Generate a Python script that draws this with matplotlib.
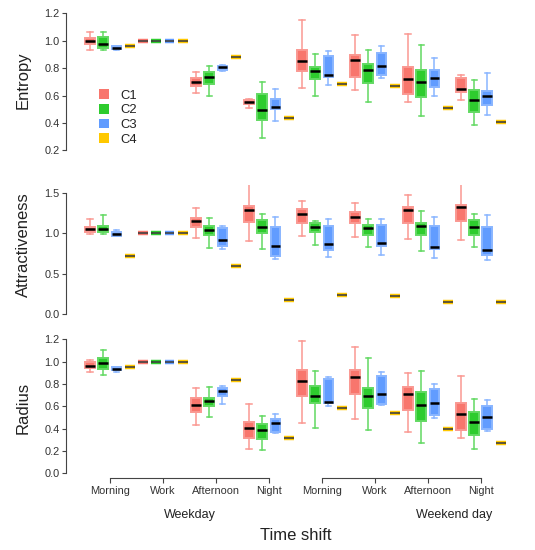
import numpy as np
import matplotlib
matplotlib.use("Agg")
import matplotlib.pyplot as plt
from matplotlib.patches import Patch
from matplotlib.transforms import blended_transform_factory
from matplotlib.colors import to_rgb

plt.rcParams['font.family'] = ['Liberation Sans', 'DejaVu Sans']

# ---------- data (order: day -> shift -> cluster C1..C4) ----------
clusters = ["C1", "C2", "C3", "C4"]
shifts = ["Morning", "Work", "Afternoon", "Night"]
days = ["Weekday", "Weekend day"]
colors = ["#F8766D", "#2ECC2E", "#619CFF", "#FFC800"]

entropy_lo = [0.930, 0.930, 0.935, 0.958,  1.0, 1.0, 1.0, 1.0,
              0.618, 0.598, 0.780, 0.883,  0.506, 0.292, 0.414, 0.435,
              0.655, 0.594, 0.674, 0.684,  0.640, 0.555, 0.726, 0.667,
              0.550, 0.453, 0.596, 0.509,  0.565, 0.385, 0.458, 0.409]
entropy_q1 = [0.974, 0.950, 0.937, 0.958,  1.0, 1.0, 1.0, 1.0,
              0.669, 0.682, 0.785, 0.883,  0.538, 0.421, 0.500, 0.435,
              0.777, 0.718, 0.733, 0.684,  0.737, 0.689, 0.747, 0.667,
              0.613, 0.589, 0.660, 0.509,  0.623, 0.477, 0.531, 0.409]
entropy_med = [1.000, 0.975, 0.945, 0.958,  1.0, 1.0, 1.0, 1.0,
               0.700, 0.735, 0.805, 0.883,  0.550, 0.495, 0.514, 0.435,
               0.852, 0.781, 0.752, 0.684,  0.857, 0.784, 0.813, 0.667,
               0.720, 0.701, 0.730, 0.509,  0.650, 0.567, 0.596, 0.409]
entropy_q3 = [1.022, 1.030, 0.958, 0.958,  1.0, 1.0, 1.0, 1.0,
              0.730, 0.774, 0.818, 0.883,  0.567, 0.609, 0.572, 0.435,
              0.932, 0.810, 0.888, 0.684,  0.896, 0.828, 0.908, 0.667,
              0.806, 0.786, 0.788, 0.509,  0.726, 0.640, 0.631, 0.409]
entropy_hi = [1.065, 1.060, 0.962, 0.958,  1.0, 1.0, 1.0, 1.0,
              0.769, 0.818, 0.822, 0.883,  0.575, 0.699, 0.650, 0.435,
              1.151, 0.905, 0.925, 0.684,  1.044, 0.932, 0.959, 0.667,
              1.047, 0.969, 0.876, 0.509,  0.752, 0.713, 0.764, 0.409]

attract_lo = [0.986, 0.986, 0.965, 0.720,  1.0, 1.0, 1.0, 1.0,
              0.944, 0.820, 0.808, 0.590,  0.903, 0.804, 0.676, 0.169,
              0.968, 0.857, 0.701, 0.239,  0.948, 0.829, 0.730, 0.223,
              0.931, 0.783, 0.696, 0.152,  0.911, 0.829, 0.664, 0.145]
attract_q1 = [1.018, 1.014, 0.968, 0.720,  1.0, 1.0, 1.0, 1.0,
              1.072, 0.977, 0.845, 0.590,  1.142, 1.002, 0.717, 0.169,
              1.121, 1.010, 0.791, 0.239,  1.125, 0.981, 0.841, 0.223,
              1.121, 0.981, 0.800, 0.152,  1.150, 0.981, 0.730, 0.145]
attract_med = [1.047, 1.051, 0.986, 0.720,  1.0, 1.0, 1.0, 1.0,
               1.154, 1.039, 0.919, 0.590,  1.282, 1.072, 0.841, 0.169,
               1.241, 1.076, 0.869, 0.239,  1.204, 1.067, 0.878, 0.223,
               1.290, 1.088, 0.825, 0.152,  1.323, 1.080, 0.791, 0.145]
attract_q3 = [1.080, 1.092, 1.014, 0.720,  1.0, 1.0, 1.0, 1.0,
              1.183, 1.084, 1.060, 0.590,  1.335, 1.166, 1.072, 0.169,
              1.295, 1.121, 1.084, 0.239,  1.258, 1.105, 1.096, 0.223,
              1.319, 1.125, 1.088, 0.152,  1.344, 1.162, 1.080, 0.145]
attract_hi = [1.175, 1.220, 1.039, 0.720,  1.0, 1.0, 1.0, 1.0,
              1.315, 1.191, 1.092, 0.590,  1.604, 1.233, 1.204, 0.169,
              1.401, 1.146, 1.179, 0.239,  1.369, 1.179, 1.171, 0.223,
              1.472, 1.278, 1.196, 0.152,  1.611, 1.240, 1.224, 0.145]

radius_lo = [0.910, 0.877, 0.904, 0.955,  1.0, 1.0, 1.0, 1.0,
             0.430, 0.504, 0.621, 0.833,  0.220, 0.206, 0.358, 0.316,
             0.450, 0.406, 0.603, 0.585,  0.489, 0.385, 0.612, 0.543,
             0.373, 0.274, 0.495, 0.394,  0.313, 0.215, 0.379, 0.269]
radius_q1 = [0.940, 0.937, 0.925, 0.955,  1.0, 1.0, 1.0, 1.0,
             0.546, 0.603, 0.692, 0.833,  0.313, 0.310, 0.367, 0.316,
             0.690, 0.627, 0.627, 0.585,  0.713, 0.585, 0.621, 0.543,
             0.567, 0.471, 0.519, 0.394,  0.391, 0.346, 0.397, 0.269]
radius_med = [0.964, 0.985, 0.937, 0.955,  1.0, 1.0, 1.0, 1.0,
              0.615, 0.650, 0.734, 0.833,  0.409, 0.388, 0.453, 0.316,
              0.824, 0.692, 0.641, 0.585,  0.860, 0.695, 0.713, 0.543,
              0.707, 0.609, 0.630, 0.394,  0.531, 0.457, 0.504, 0.269]
radius_q3 = [0.994, 1.035, 0.952, 0.955,  1.0, 1.0, 1.0, 1.0,
             0.672, 0.674, 0.761, 0.833,  0.459, 0.439, 0.489, 0.316,
             0.925, 0.782, 0.842, 0.585,  0.925, 0.764, 0.871, 0.543,
             0.770, 0.725, 0.758, 0.394,  0.630, 0.546, 0.603, 0.269]
radius_hi = [1.015, 1.107, 0.955, 0.955,  1.0, 1.0, 1.0, 1.0,
             0.761, 0.776, 0.782, 0.833,  0.623, 0.516, 0.534, 0.316,
             1.188, 0.913, 0.865, 0.585,  1.134, 1.030, 0.907, 0.543,
             0.898, 0.916, 0.797, 0.394,  0.871, 0.665, 0.656, 0.269]

W, H = 535, 550
fig = plt.figure(figsize=(W / 100, H / 100), dpi=100)


def px_axes(left, top, right, bottom):
    return fig.add_axes([left / W, 1 - bottom / H, (right - left) / W, (bottom - top) / H])


def lighten(c, f=0.3):
    r, g, b = to_rgb(c)
    return (r + (1 - r) * f, g + (1 - g) * f, b + (1 - b) * f)


positions = np.arange(1, 33)
group_centers = positions.reshape(8, 4).mean(axis=1)
AXCOL = "#444444"
TXTCOL = "#222222"


def draw_panel(ax, lo, q1, med, q3, hi, ylim, yticks, label, label_y):
    stats = [dict(whislo=lo[i], q1=q1[i], med=med[i], q3=q3[i], whishi=hi[i], fliers=[])
             for i in range(len(med))]
    art = ax.bxp(stats, positions=positions, widths=0.75, capwidths=0.4,
                 patch_artist=True, showfliers=False,
                 medianprops=dict(color="black", lw=1.8, solid_capstyle="butt"),
                 manage_ticks=False)
    for i, box in enumerate(art["boxes"]):
        c = colors[i % 4]
        box.set_facecolor(c)
        if q3[i] - q1[i] < 1e-9:
            # single-value groups: flat coloured bar with a thin dark median
            box.set_edgecolor(c)
            box.set_linewidth(3.2)
            box.set_capstyle("butt")
            art["medians"][i].set_linewidth(1.1)
            art["medians"][i].set_color("#333333")
        else:
            box.set_edgecolor(lighten(c, 0.25))
            box.set_linewidth(1.4)
    for j, ln in enumerate(art["whiskers"] + art["caps"]):
        k = (j % 64) // 2
        ln.set_color(lighten(colors[k % 4], 0.25))
        ln.set_linewidth(1.1)
    ax.set_xlim(-0.78, 33.78)
    ax.set_ylim(*ylim)
    ax.set_yticks(yticks)
    ax.set_yticklabels([f"{t:.1f}" for t in yticks])
    for s in ["top", "right", "bottom"]:
        ax.spines[s].set_visible(False)
    ax.spines["left"].set_bounds(yticks[0], yticks[-1])
    ax.spines["left"].set_color(AXCOL)
    ax.tick_params(axis="y", direction="out", length=3, width=0.8, color=AXCOL,
                   labelsize=7.9, labelcolor="#333333", pad=2)
    ax.set_xticks([])
    ax.patch.set_visible(False)
    fig.text(23 / W, 1 - label_y / H, label, rotation=90, ha="center", va="center",
             fontsize=12, color=TXTCOL)


ax1 = px_axes(66.4, 5.1, 524.3, 159.9)
draw_panel(ax1, entropy_lo, entropy_q1, entropy_med, entropy_q3, entropy_hi,
           (0.13, 1.26), [0.2, 0.4, 0.6, 0.8, 1.0, 1.2], "Entropy", 80)

ax2 = px_axes(66.4, 184.6, 524.3, 319.7)
draw_panel(ax2, attract_lo, attract_q1, attract_med, attract_q3, attract_hi,
           (-0.07, 1.6), [0.0, 0.5, 1.0, 1.5], "Attractiveness", 245)

ax3 = px_axes(66.4, 331.5, 524.3, 478.0)
draw_panel(ax3, radius_lo, radius_q1, radius_med, radius_q3, radius_hi,
           (-0.042, 1.27), [0.0, 0.2, 0.4, 0.6, 0.8, 1.0, 1.2], "Radius", 408)

# x axis: two brackets with shift labels
ax3.set_xticks(group_centers)
ax3.set_xticklabels(shifts * 2)
ax3.tick_params(axis="x", direction="out", length=3.6, width=0.8, color=AXCOL,
                labelsize=7.9, labelcolor="#333333", pad=2)
tr = blended_transform_factory(ax3.transData, ax3.transAxes)
for d in range(2):
    g = group_centers[d * 4:(d + 1) * 4]
    ax3.plot([g[0], g[-1]], [0, 0], color=AXCOL, lw=0.8, transform=tr, clip_on=False)

fig.text(190 / W, 1 - 515 / H, days[0], ha="center", va="center", fontsize=9, color=TXTCOL)
fig.text(454 / W, 1 - 515 / H, days[1], ha="center", va="center", fontsize=9, color=TXTCOL)
fig.text(296 / W, 1 - 536 / H, "Time shift", ha="center", va="center", fontsize=12, color=TXTCOL)

handles = [Patch(facecolor=c, edgecolor="none", label=n) for c, n in zip(colors, clusters)]
fig.legend(handles=handles, loc="upper left", bbox_to_anchor=(99 / W, 1 - 89 / H),
           frameon=False, fontsize=9.4, handlelength=0.8, handleheight=0.8,
           labelspacing=0.17, handletextpad=0.8, borderpad=0, borderaxespad=0,
           labelcolor=TXTCOL)

fig.savefig("out.png", dpi=100)
